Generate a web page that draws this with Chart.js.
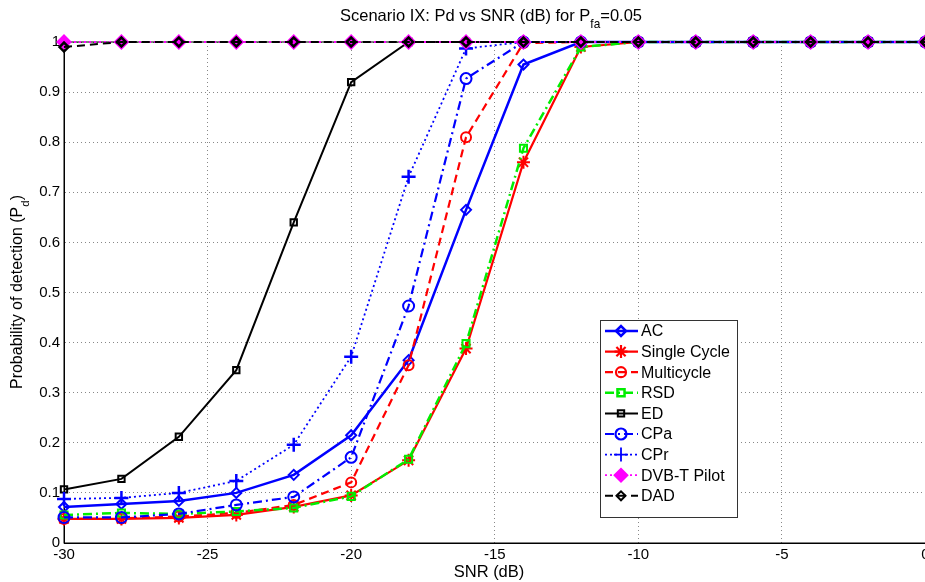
<!DOCTYPE html>
<html>
<head>
<meta charset="utf-8">
<script src="https://cdn.jsdelivr.net/npm/chart.js@4/dist/chart.umd.min.js"></script>
<style>
    html, body { margin: 0; padding: 0; background: #fff; overflow: hidden; }
    #wrap { width: 935px; height: 582px; }
</style>
</head>
<body>
<div id="wrap"><canvas id="pdChart" width="935" height="582"></canvas></div>
<script>
// Trục x: SNR (dB), mỗi điểm cách nhau 2 dB
const snr = [-30, -28, -26, -24, -22, -20, -18, -16, -14, -12, -10, -8, -6, -4, -2, 0];

// Xác suất phát hiện của từng bộ dò
const pdAC          = [0.072, 0.078, 0.084, 0.100, 0.136, 0.215, 0.365, 0.665, 0.955, 1, 1, 1, 1, 1, 1, 1];
const pdSingleCycle = [0.048, 0.048, 0.050, 0.056, 0.072, 0.095, 0.165, 0.388, 0.760, 0.990, 1, 1, 1, 1, 1, 1];
const pdMulticycle  = [0.048, 0.049, 0.053, 0.060, 0.076, 0.121, 0.355, 0.810, 0.998, 1, 1, 1, 1, 1, 1, 1];
const pdRSD         = [0.056, 0.060, 0.058, 0.063, 0.070, 0.093, 0.167, 0.398, 0.788, 0.990, 1, 1, 1, 1, 1, 1];
const pdED          = [0.107, 0.128, 0.212, 0.345, 0.640, 0.920, 1, 1, 1, 1, 1, 1, 1, 1, 1, 1];
const pdCPa         = [0.051, 0.051, 0.058, 0.076, 0.092, 0.171, 0.473, 0.927, 1, 1, 1, 1, 1, 1, 1, 1];
const pdCPr         = [0.088, 0.090, 0.100, 0.124, 0.196, 0.372, 0.731, 0.987, 1, 1, 1, 1, 1, 1, 1, 1];
const pdDVBT        = [1, 1, 1, 1, 1, 1, 1, 1, 1, 1, 1, 1, 1, 1, 1, 1];
const pdDAD         = [0.990, 1, 1, 1, 1, 1, 1, 1, 1, 1, 1, 1, 1, 1, 1, 1];

const xTicks = [-30, -25, -20, -15, -10, -5, 0];

const FONT = '"Liberation Sans", Arial, Helvetica, sans-serif';

function toXY(values) {
    return snr.map((x, i) => ({ x: x, y: values[i] }));
}

// Tạo một đường cong: nhãn, dữ liệu, màu, kiểu nét, kiểu điểm
function serie(label, values, color, dash, width, pointStyle, radius, fill) {
    return {
        label: label,
        data: toXY(values),
        borderColor: color,
        backgroundColor: color,
        borderWidth: width,
        borderDash: dash,
        pointStyle: pointStyle,
        pointRadius: radius,
        pointHoverRadius: radius,
        pointBorderColor: color,
        pointBackgroundColor: fill || 'rgba(255,255,255,0)',
        pointBorderWidth: 2,
        tension: 0,
        fill: false,
        clip: false
    };
}

const datasets = [
    serie('AC', pdAC, '#0000ff', [], 2.5, 'rectRot', 5),
    serie('Single Cycle', pdSingleCycle, '#ff0000', [], 2.2, 'star', 6.5),
    serie('Multicycle', pdMulticycle, '#ff0000', [8, 5], 2.2, 'circle', 5),
    serie('RSD', pdRSD, '#00ee00', [9, 4, 2, 4], 2.5, 'rect', 5),
    serie('ED', pdED, '#000000', [], 2, 'rect', 4.5),
    serie('CPa', pdCPa, '#0000ff', [9, 4, 2, 4], 2.2, 'circle', 5.5),
    serie('CPr', pdCPr, '#0000ff', [2, 3], 1.8, 'cross', 7),
    serie('DVB-T Pilot', pdDVBT, '#ff00ff', [2, 3], 1.8, 'rectRot', 6.5, '#ff00ff'),
    serie('DAD', pdDAD, '#000000', [8, 5], 2, 'rectRot', 4.5)
];
// Đường vẽ sau nằm trên
datasets.forEach((d, i) => { d.order = datasets.length - i; });
datasets[8].pointBorderWidth = 2.5;
datasets[6].pointBorderWidth = 2.5;

// Vẽ chữ có chỉ số dưới (P_d, P_fa)
function drawSubText(ctx, parts, x, y, size, align) {
    ctx.save();
    ctx.textBaseline = 'middle';
    ctx.textAlign = 'left';
    let total = 0;
    parts.forEach(p => {
        ctx.font = (p.sub ? size * 0.72 : size) + 'px ' + FONT;
        total += ctx.measureText(p.t).width;
    });
    let cx = align === 'center' ? x - total / 2 : x;
    parts.forEach(p => {
        ctx.font = (p.sub ? size * 0.72 : size) + 'px ' + FONT;
        ctx.fillText(p.t, cx, p.sub ? y + size * 0.5 : y);
        cx += ctx.measureText(p.t).width;
    });
    ctx.restore();
}

const decorPlugin = {
    id: 'decor',
    beforeDatasetsDraw(chart) {
        const { ctx, chartArea: a } = chart;
        ctx.save();
        ctx.strokeStyle = '#000';
        ctx.lineWidth = 1;
        ctx.strokeRect(a.left, a.top, a.right - a.left, a.bottom - a.top);
        ctx.restore();
    },
    afterDraw(chart) {
        const ctx = chart.ctx;
        ctx.fillStyle = '#000';

        // Tiêu đề
        drawSubText(ctx, [
            { t: 'Scenario IX: Pd vs SNR (dB) for P' },
            { t: 'fa', sub: true },
            { t: '=0.05' }
        ], 491, 16, 16.5, 'center');

        // Nhãn trục x
        ctx.save();
        ctx.font = '16.5px ' + FONT;
        ctx.textAlign = 'center';
        ctx.textBaseline = 'middle';
        ctx.fillText('SNR (dB)', 489, 572);
        ctx.restore();

        // Nhãn trục y
        ctx.save();
        ctx.translate(18, 292);
        ctx.rotate(-Math.PI / 2);
        ctx.fillStyle = '#000';
        drawSubText(ctx, [
            { t: 'Probability of detection (P' },
            { t: 'd', sub: true },
            { t: ')' }
        ], 0, 0, 16, 'center');
        ctx.restore();

        // Chú thích
        const box = { x: 600, y: 320, w: 137, h: 197 };
        ctx.save();
        ctx.fillStyle = '#fff';
        ctx.fillRect(box.x, box.y, box.w, box.h);
        ctx.strokeStyle = '#333';
        ctx.lineWidth = 1;
        ctx.strokeRect(box.x + 0.5, box.y + 0.5, box.w, box.h);
        chart.data.datasets.forEach((d, i) => {
            const y = box.y + 11 + i * 20.6;
            ctx.strokeStyle = d.borderColor;
            ctx.lineWidth = d.borderWidth;
            ctx.setLineDash(d.borderDash);
            ctx.beginPath();
            ctx.moveTo(box.x + 5, y);
            ctx.lineTo(box.x + 38, y);
            ctx.stroke();
            ctx.setLineDash([]);
            ctx.fillStyle = d.pointBackgroundColor;
            ctx.strokeStyle = d.pointBorderColor;
            Chart.helpers.drawPoint(ctx, {
                pointStyle: d.pointStyle,
                rotation: 0,
                radius: d.pointRadius,
                borderWidth: d.pointBorderWidth
            }, box.x + 21, y);
            ctx.fillStyle = '#000';
            ctx.font = '16px ' + FONT;
            ctx.textAlign = 'left';
            ctx.textBaseline = 'middle';
            ctx.fillText(d.label, box.x + 41, y + 1);
        });
        ctx.restore();
    }
};

const gridDash = [1, 3];

new Chart(document.getElementById('pdChart').getContext('2d'), {
    type: 'line',
    data: { datasets: datasets },
    plugins: [decorPlugin],
    options: {
        responsive: false,
        animation: false,
        events: [],
        layout: { padding: { left: 0, top: 42, right: 8, bottom: 0 } },
        plugins: {
            legend: { display: false },
            title: { display: false },
            tooltip: { enabled: false }
        },
        scales: {
            x: {
                type: 'linear',
                min: -30,
                max: 0,
                afterFit(scale) { scale.height = 39; },
                afterBuildTicks(scale) { scale.ticks = xTicks.map(v => ({ value: v })); },
                ticks: {
                    color: '#000',
                    font: { family: FONT, size: 15 },
                    padding: 3,
                    maxRotation: 0,
                    autoSkip: false
                },
                grid: { color: '#888', lineWidth: 1, drawTicks: false },
                border: { color: '#000', width: 1, dash: gridDash }
            },
            y: {
                min: 0,
                max: 1,
                afterFit(scale) { scale.width = 64; },
                ticks: {
                    stepSize: 0.1,
                    color: '#000',
                    font: { family: FONT, size: 15 },
                    padding: 4,
                    callback: v => (v === 0 || v === 1) ? String(v) : v.toFixed(1)
                },
                grid: { color: '#888', lineWidth: 1, drawTicks: false },
                border: { color: '#000', width: 1, dash: gridDash }
            }
        }
    }
});
</script>
</body>
</html>
